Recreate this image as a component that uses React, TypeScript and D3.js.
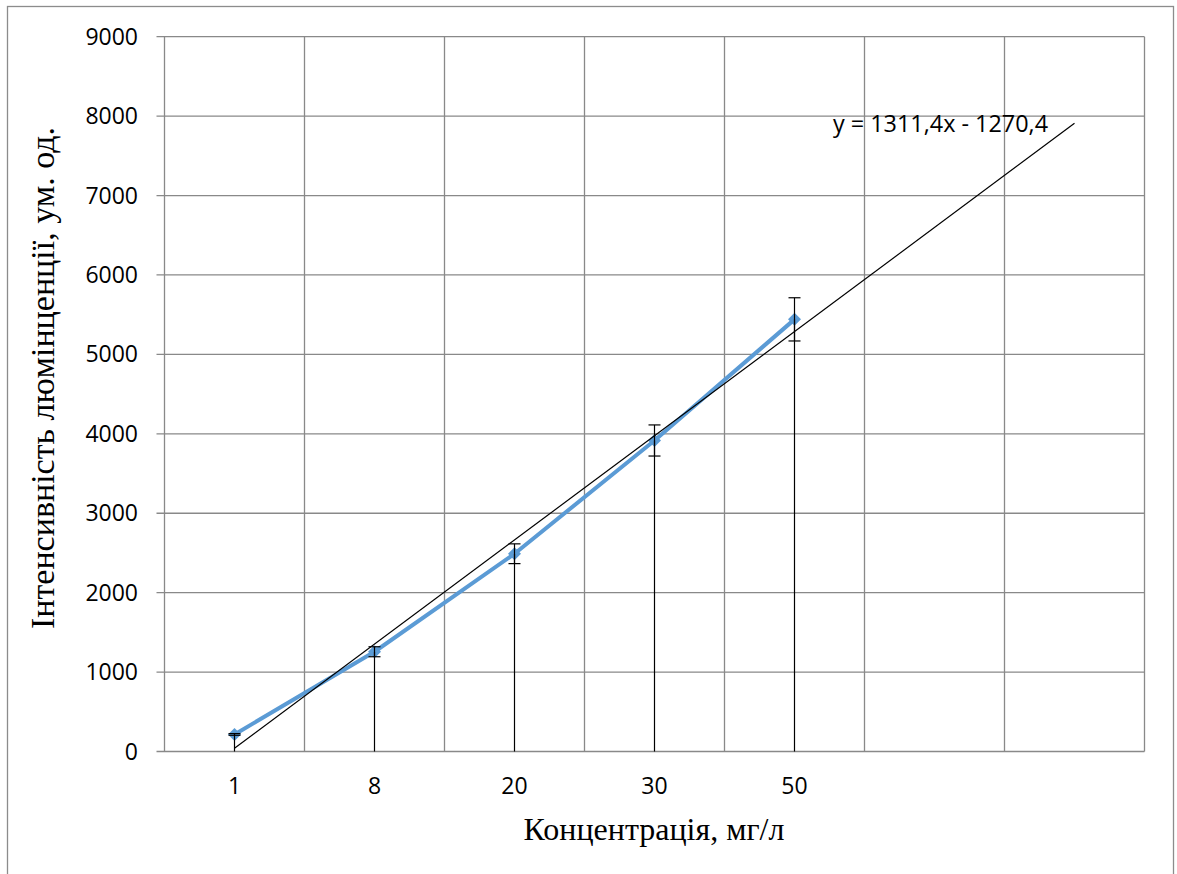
import React from "react";
import * as d3 from "d3";

// Concentration categories (mg/L) and measured luminescence intensity
const categories: string[] = ["1", "8", "20", "30", "50"];
const intensity: number[] = [215, 1256, 2490, 3916, 5441];
// Relative error (fraction of the value) shown as error bars
const errorFraction = 0.05;
// Linear trend fitted over the category index, extended forward
const trendSlope = 1311.4;
const trendIntercept = -1270.4;
const trendForward = 2;
const yTicks: number[] = [0, 1000, 2000, 3000, 4000, 5000, 6000, 7000, 8000, 9000];

const W = 1177;
const H = 874;
const plot = { left: 164.5, right: 1144.5, top: 36.7, bottom: 751.5 };

const tickFont = "'Open Sans', sans-serif";
const titleFont = "'Liberation Serif', 'Times New Roman', serif";
const gridColor = "#898989";
const seriesColor = "#5B9BD5";

export default function App() {
  const slots = categories.length + trendForward;
  const x = d3.scaleLinear().domain([0.5, slots + 0.5]).range([plot.left, plot.right]);
  const y = d3.scaleLinear().domain([0, 9000]).range([plot.bottom, plot.top]);

  const pts = intensity.map((v, i) => ({ i: i + 1, v }));
  const line = d3
    .line<{ i: number; v: number }>()
    .x((d) => x(d.i))
    .y((d) => y(d.v));

  const trendStart = 1;
  const trendEnd = categories.length + trendForward;
  const trendY = (k: number) => trendSlope * k + trendIntercept;

  // diamond marker, 13px across
  const r = 6.5;
  const diamond = `M0,${-r}L${r},0L0,${r}L${-r},0Z`;
  const slotEdges = d3.range(0, slots + 1).map((k) => x(k + 0.5));

  return (
    <svg width={W} height={H} style={{ display: "block", position: "absolute", left: 0, top: 0 }}>
      <rect x={0} y={0} width={W} height={H} fill="#fff" />
      <rect x={7.5} y={6.5} width={1166} height={H + 20} fill="none" stroke="#8c8c8c" strokeWidth={1.3} />

      {/* horizontal gridlines with outside tick marks */}
      {yTicks.map((t) => (
        <line key={"h" + t} x1={plot.left - 8} x2={plot.right} y1={y(t)} y2={y(t)} stroke={gridColor} strokeWidth={1.3} />
      ))}
      {/* vertical gridlines on category boundaries */}
      {slotEdges.map((px, k) => (
        <line key={"v" + k} x1={px} x2={px} y1={plot.top} y2={plot.bottom} stroke={gridColor} strokeWidth={1.3} />
      ))}

      {/* y tick labels */}
      {yTicks.map((t) => (
        <text key={"yl" + t} x={138} y={y(t)} dy="0.35em" textAnchor="end" fontFamily={tickFont} fontSize={23} fill="#000">
          {t}
        </text>
      ))}
      {/* x category labels */}
      {categories.map((c, i) => (
        <text key={"xl" + c} x={x(i + 1)} y={786} dy="0.35em" textAnchor="middle" fontFamily={tickFont} fontSize={23} fill="#000">
          {c}
        </text>
      ))}

      {/* data series */}
      <path d={line(pts) || ""} fill="none" stroke={seriesColor} strokeWidth={4} strokeLinejoin="round" />
      {pts.map((p) => (
        <path key={"m" + p.i} d={diamond} transform={`translate(${x(p.i)},${y(p.v)})`} fill={seriesColor} />
      ))}

      {/* drop lines */}
      {pts.map((p) => (
        <line key={"d" + p.i} x1={x(p.i)} x2={x(p.i)} y1={y(p.v)} y2={y(0)} stroke="#000" strokeWidth={1.2} />
      ))}
      {/* error bars */}
      {pts.map((p) => {
        const hi = y(p.v * (1 + errorFraction));
        const lo = y(p.v * (1 - errorFraction));
        const cx = x(p.i);
        return (
          <g key={"e" + p.i} stroke="#000" strokeWidth={1.2}>
            <line x1={cx} x2={cx} y1={hi} y2={lo} />
            <line x1={cx - 6} x2={cx + 6} y1={hi} y2={hi} />
            <line x1={cx - 6} x2={cx + 6} y1={lo} y2={lo} />
          </g>
        );
      })}

      {/* linear trendline */}
      <line
        x1={x(trendStart)}
        y1={y(trendY(trendStart))}
        x2={x(trendEnd)}
        y2={y(trendY(trendEnd))}
        stroke="#000"
        strokeWidth={1.2}
      />
      <text x={833} y={132} fontFamily={tickFont} fontSize={23.4} fill="#000">
        y = 1311,4x - 1270,4
      </text>

      {/* axis titles */}
      <text x={654} y={840} textAnchor="middle" fontFamily={titleFont} fontSize={32} fill="#000">
        Концентрація, мг/л
      </text>
      <text
        transform={`translate(54,378) rotate(-90)`}
        textAnchor="middle"
        fontFamily={titleFont}
        fontSize={34}
        fill="#000"
      >
        Інтенсивність люмінценції, ум. од.
      </text>
    </svg>
  );
}
